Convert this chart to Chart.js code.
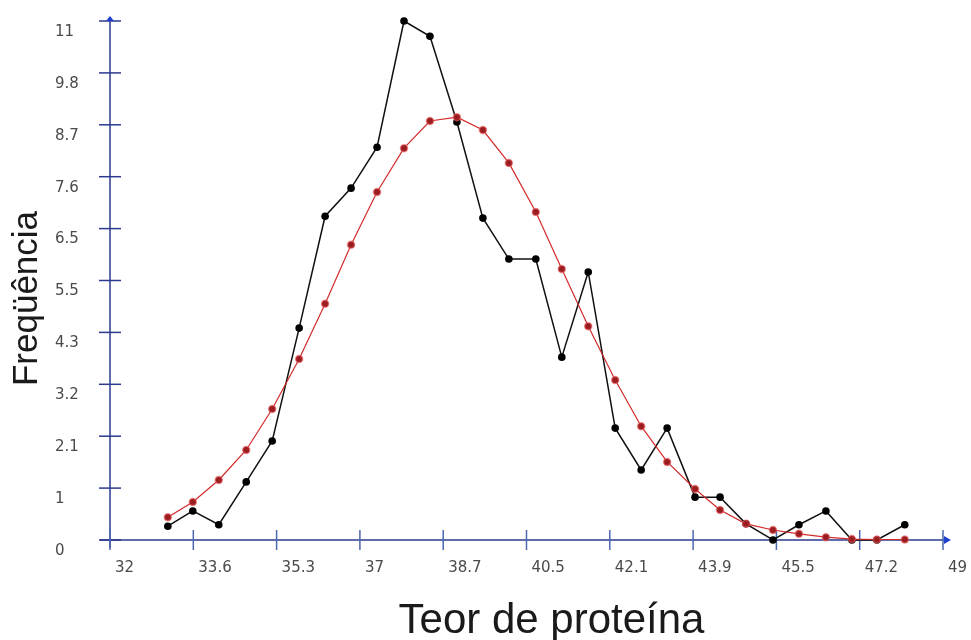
<!DOCTYPE html>
<html lang="pt">
<head>
<meta charset="UTF-8">
<title>Teor de proteína</title>
<script src="https://cdn.jsdelivr.net/npm/chart.js"></script>
<style>
	body { margin: 0; background: #fff; }
	#wrap { width: 971px; height: 640px; }
</style>
</head>
<body>
<div id="wrap"><canvas id="grafico" width="971" height="640"></canvas></div>
<script>
// valores
const teor = [33.18, 33.69, 34.22, 34.78, 35.31, 35.86, 36.39, 36.92, 37.45, 38.00, 38.53, 39.08, 39.61, 40.14, 40.69,
	41.22, 41.76, 42.31, 42.84, 43.37, 43.94, 44.45, 44.98, 45.53, 46.06, 46.61, 47.14, 47.65, 48.22];
const observada = [0.29, 0.61, 0.32, 1.22, 2.08, 4.45, 6.80, 7.39, 8.25, 10.90, 10.58, 8.78, 6.76, 5.90, 5.90,
	3.84, 5.63, 2.35, 1.47, 2.35, 0.90, 0.90, 0.34, 0, 0.32, 0.61, 0, 0, 0.32];
const ajustada = [0.48, 0.80, 1.26, 1.89, 2.75, 3.80, 4.96, 6.20, 7.31, 8.23, 8.80, 8.88, 8.61, 7.92, 6.89,
	5.69, 4.49, 3.36, 2.39, 1.64, 1.07, 0.63, 0.34, 0.21, 0.13, 0.06, 0.02, 0.01, 0.01];

const xLabels = ['32', '33.6', '35.3', '37', '38.7', '40.5', '42.1', '43.9', '45.5', '47.2', '49'];
const yLabels = ['0', '1', '2.1', '3.2', '4.3', '5.5', '6.5', '7.6', '8.7', '9.8', '11'];
const xMin = 32, xStep = 1.7;
const yStep = 1.09;

const fonte = "'Liberation Sans', Arial, sans-serif";
const fonteTicks = "'DejaVu Sans', Verdana, sans-serif";

// eixos com marcas cruzadas, setas e títulos
const eixos = {
	id: 'eixos',
	beforeDatasetsDraw(chart) {
		const { ctx, scales: { x, y } } = chart;
		const x0 = x.getPixelForValue(x.min), x1 = x.getPixelForValue(x.max);
		const y0 = y.getPixelForValue(0), y1 = y.getPixelForValue(y.max);
		const linha = (a, b, c, d) => { ctx.beginPath(); ctx.moveTo(a, b); ctx.lineTo(c, d); ctx.stroke(); };
		ctx.save();
		ctx.strokeStyle = '#2b3a8e';
		ctx.lineWidth = 1.5;
		linha(x0, y1 - 3, x0, y0 + 8);
		linha(x0 - 10, y0, x1 + 4, y0);
		y.ticks.forEach(t => {
			const py = y.getPixelForValue(t.value);
			linha(x0 - 11, py, x0 + 11, py);
		});
		ctx.strokeStyle = '#4a68b0';
		x.ticks.forEach(t => {
			const px = x.getPixelForValue(t.value);
			linha(px, y0 - 10, px, y0 + 10);
		});
		// setas
		ctx.fillStyle = '#1f3fd0';
		ctx.beginPath();
		ctx.moveTo(x0, y1 - 5); ctx.lineTo(x0 - 4, y1); ctx.lineTo(x0 + 4, y1); ctx.closePath(); ctx.fill();
		ctx.beginPath();
		ctx.moveTo(x1 + 8, y0); ctx.lineTo(x1 + 1, y0 - 4); ctx.lineTo(x1 + 1, y0 + 4); ctx.closePath(); ctx.fill();

		// títulos
		const area = chart.chartArea;
		ctx.fillStyle = '#1a1a1a';
		ctx.font = '42px ' + fonte;
		ctx.textAlign = 'center';
		ctx.textBaseline = 'alphabetic';
		ctx.fillText('Teor de proteína', (area.left + area.right) / 2 + 25, 633);
		ctx.translate(27, (area.top + area.bottom) / 2 + 18);
		ctx.rotate(-Math.PI / 2);
		ctx.font = '35px ' + fonte;
		ctx.textBaseline = 'middle';
		ctx.fillText('Freqüência', 0, 0);
		ctx.restore();
	}
};

const ctx = document.getElementById('grafico').getContext('2d');
const grafico = new Chart(ctx, {
	type: 'line',
	data: {
		datasets: [
			{
				label: 'Ajustada',
				data: teor.map((v, i) => ({ x: v, y: ajustada[i] })),
				borderColor: '#d42a2a',
				borderWidth: 1.2,
				pointRadius: 3.5,
				pointBackgroundColor: '#9a1d22',
				pointBorderColor: 'rgba(230, 90, 90, 0.6)',
				pointBorderWidth: 1.5,
				clip: false
			},
			{
				label: 'Observada',
				data: teor.map((v, i) => ({ x: v, y: observada[i] })),
				borderColor: '#111',
				borderWidth: 1.5,
				pointRadius: 3.8,
				pointBackgroundColor: '#000',
				pointBorderColor: '#000',
				pointBorderWidth: 0,
				clip: false
			}
		]
	},
	plugins: [eixos],
	options: {
		responsive: false,
		animation: false,
		layout: { padding: { left: 55, right: 28, top: 21, bottom: 0 } },
		plugins: { legend: { display: false }, tooltip: { enabled: false } },
		scales: {
			x: {
				type: 'linear',
				min: xMin,
				max: xMin + xStep * (xLabels.length - 1),
				border: { display: false },
				grid: { display: false, drawTicks: false },
				afterBuildTicks: s => { s.ticks = xLabels.map((l, i) => ({ value: xMin + i * xStep })); },
				afterFit: s => { s.height = 100; s.paddingLeft = 0; s.paddingRight = 0; },
				ticks: {
					autoSkip: false,
					maxRotation: 0,
					align: 'start',
					labelOffset: 5,
					padding: 19,
					color: '#4a4a4a',
					font: { family: fonteTicks, size: 15 },
					callback: (v, i) => xLabels[i]
				}
			},
			y: {
				min: 0,
				max: yStep * (yLabels.length - 1),
				border: { display: false },
				grid: { display: false, drawTicks: false },
				afterBuildTicks: s => { s.ticks = yLabels.map((l, i) => ({ value: i * yStep })); },
				afterFit: s => { s.width = 55; s.paddingTop = 0; s.paddingBottom = 0; },
				ticks: {
					autoSkip: false,
					crossAlign: 'far',
					labelOffset: 11,
					color: '#4a4a4a',
					font: { family: fonteTicks, size: 15 },
					callback: (v, i) => yLabels[i]
				}
			}
		}
	}
});
</script>
</body>
</html>
